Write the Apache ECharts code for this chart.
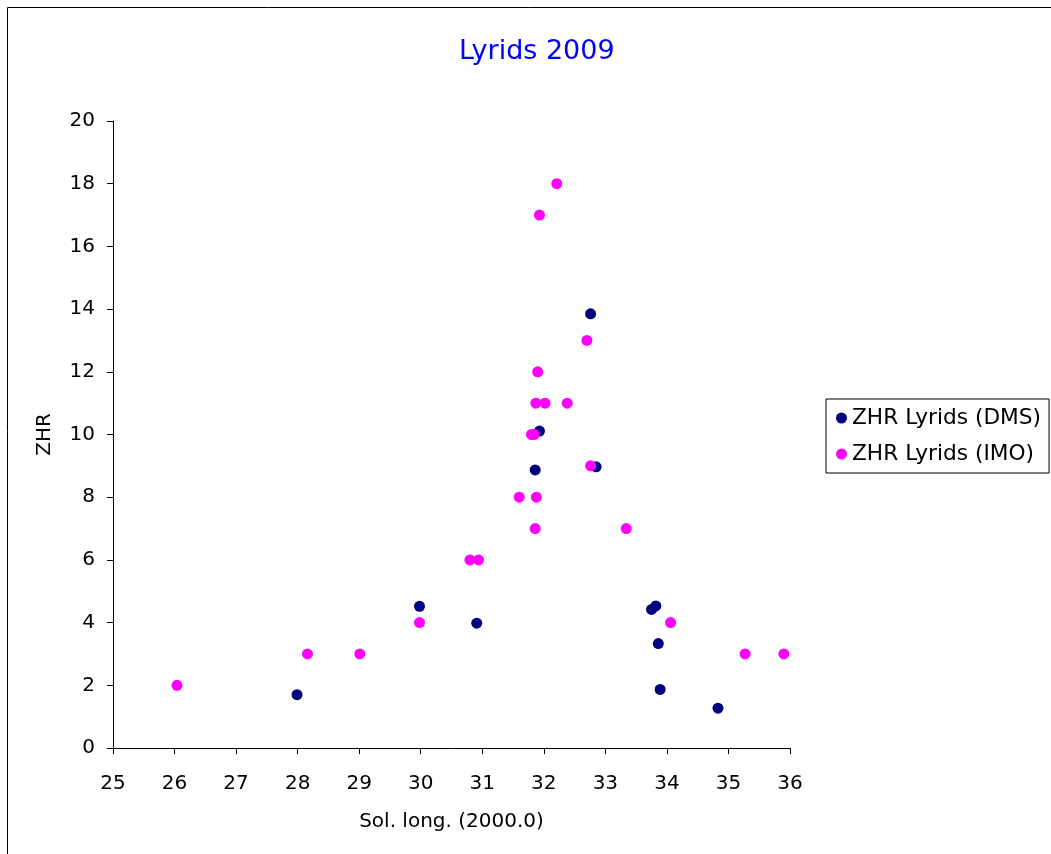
<!DOCTYPE html>
<html>
<head>
<meta charset="utf-8">
<script src="https://cdn.jsdelivr.net/npm/echarts@6/dist/echarts.min.js"></script>
<style>
html,body{margin:0;padding:0;background:#fff;}
#c{width:1051px;height:854px;}
</style>
</head>
<body>
<div id="c"></div>
<script>
// Data
const dmsX = [27.99, 29.98, 30.91, 31.86, 31.93, 32.76, 32.85, 33.75, 33.82, 33.86, 33.89, 34.83];
const dmsY = [1.70, 4.52, 3.98, 8.87, 10.11, 13.85, 8.97, 4.42, 4.53, 3.33, 1.87, 1.27];
const imoX = [26.04, 28.16, 29.01, 29.98, 30.80, 30.94, 31.60, 31.88, 31.86, 31.80, 31.84, 31.87, 32.02, 32.38, 31.90, 32.70, 31.93, 32.21, 32.76, 33.34, 34.06, 35.27, 35.90];
const imoY = [2.0, 3.0, 3.0, 4.0, 6.0, 6.0, 8.0, 8.0, 7.0, 10.0, 10.0, 11.0, 11.0, 11.0, 12.0, 13.0, 17.0, 18.0, 9.0, 7.0, 4.0, 3.0, 3.0];
const seriesNames = ['ZHR Lyrids (DMS)', 'ZHR Lyrids (IMO)'];
const titleText = 'Lyrids 2009';
const xName = 'Sol. long. (2000.0)';
const yName = 'ZHR';

const FONT = 'Verdana, "DejaVu Sans", sans-serif';
const pairs = (xs, ys) => xs.map((x, i) => [x, ys[i]]);

const chart = echarts.init(document.getElementById('c'), null, {renderer: 'canvas'});
chart.setOption({
  backgroundColor: '#ffffff',
  animation: false,
  graphic: [{
    type: 'rect',
    shape: {x: 7.5, y: 7.5, width: 1100, height: 900},
    style: {fill: 'none', stroke: '#000', lineWidth: 1},
    silent: true
  }],
  title: {
    text: titleText,
    left: 454,
    top: 33,
    textStyle: {color: '#0000ff', fontFamily: FONT, fontSize: 27, fontWeight: 'normal'}
  },
  legend: {
    orient: 'vertical',
    left: 826,
    top: 399,
    padding: [8, 8, 8, 10],
    itemGap: 14,
    itemWidth: 11,
    itemHeight: 11,
    borderColor: '#000',
    borderWidth: 1,
    borderRadius: 0,
    icon: 'circle',
    textStyle: {color: '#000', fontFamily: FONT, fontSize: 21.7},
    data: seriesNames
  },
  grid: {left: 113, right: 261, top: 121, bottom: 106, containLabel: false},
  xAxis: {
    type: 'value',
    min: 25, max: 36, interval: 1,
    name: xName,
    nameLocation: 'middle',
    nameGap: 64,
    nameTextStyle: {color: '#000', fontFamily: FONT, fontSize: 20},
    axisLine: {show: true, onZero: false, lineStyle: {color: '#000', width: 1}},
    axisTick: {show: true, length: 6, lineStyle: {color: '#000'}},
    axisLabel: {color: '#000', fontFamily: FONT, fontSize: 20, margin: 26},
    splitLine: {show: false}
  },
  yAxis: {
    type: 'value',
    min: 0, max: 20, interval: 2,
    name: yName,
    nameLocation: 'middle',
    nameGap: 58,
    nameTextStyle: {color: '#000', fontFamily: FONT, fontSize: 20},
    axisLine: {show: true, onZero: false, lineStyle: {color: '#000', width: 1}},
    axisTick: {show: true, length: 6, lineStyle: {color: '#000'}},
    axisLabel: {color: '#000', fontFamily: FONT, fontSize: 20, margin: 18},
    splitLine: {show: false}
  },
  series: [
    {
      name: seriesNames[0],
      type: 'scatter',
      symbol: 'circle',
      symbolSize: 11,
      itemStyle: {color: '#000080', opacity: 1},
      data: pairs(dmsX, dmsY)
    },
    {
      name: seriesNames[1],
      type: 'scatter',
      symbol: 'circle',
      symbolSize: 11,
      itemStyle: {color: '#ff00ff', opacity: 1},
      data: pairs(imoX, imoY)
    }
  ]
});
</script>
</body>
</html>
